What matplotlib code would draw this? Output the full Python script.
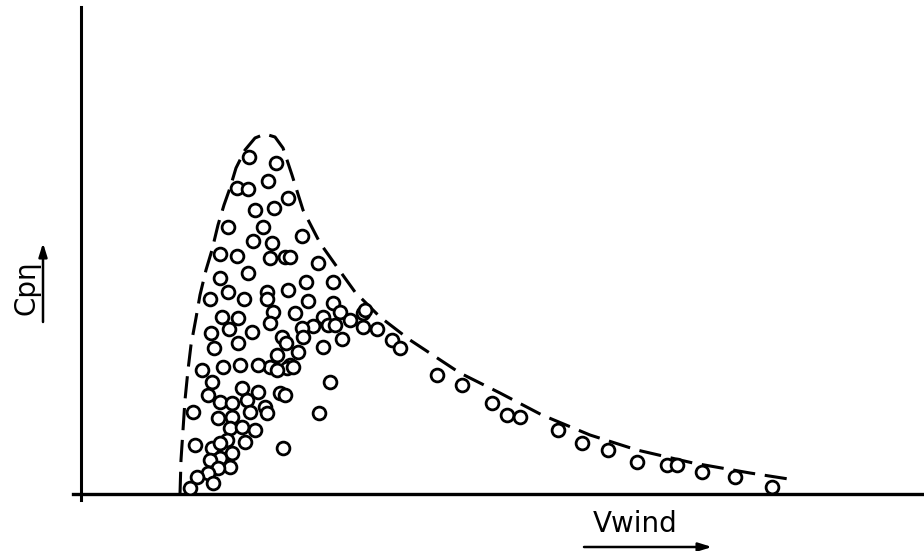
import matplotlib
matplotlib.use("Agg")
import matplotlib.pyplot as plt

plt.rcParams['lines.scale_dashes'] = False

# measured points (arbitrary units: wind speed, power coefficient)
v = [16.8, 19.5, 15.6, 16.7, 18.7, 20.7, 17.4, 19.3, 14.7, 18.2, 17.2, 19.1,
     22.1, 13.9, 15.6, 18.9, 20.4, 20.9, 16.7, 13.9, 14.7, 16.3, 18.6, 18.6,
     12.9, 14.1, 15.7, 19.2, 18.9, 13.0, 14.8, 17.1, 15.7, 13.3, 20.1, 18.9,
     15.9, 14.2, 19.6, 20.7, 23.7, 25.2, 22.5, 22.7, 25.2, 25.9, 26.9, 28.2,
     28.2, 29.6, 24.2, 24.7, 25.4, 23.2, 22.1, 21.4, 20.5, 22.2, 21.7, 24.2,
     26.1, 31.1, 31.9, 20.9, 12.1, 17.7, 13.1, 16.1, 17.7, 12.7, 13.9, 15.1,
     16.6, 18.4, 19.9, 11.2, 13.7, 15.1, 16.9, 18.6, 14.9, 16.1, 17.4, 14.6,
     16.4, 11.4, 13.1, 13.9, 20.2, 15.1, 13.9, 12.9, 14.9, 13.7, 12.7, 11.6,
     13.2, 10.9, 20.6, 19.6, 21.2, 24.9, 20.4, 23.8,
     28.4, 35.6, 38.1, 41.1, 42.6, 43.9, 47.7, 50.1, 52.7, 55.6, 58.6, 59.6,
     62.1, 65.4, 69.1]
cp = [33.7, 33.1, 30.6, 30.5, 31.3, 29.6, 28.4, 28.6, 26.7, 26.7, 25.3, 25.1,
      25.8, 24.0, 23.8, 23.6, 23.7, 23.7, 22.1, 21.6, 20.2, 19.5, 20.2, 19.5,
      19.5, 17.7, 17.6, 18.2, 17.1, 16.1, 16.5, 16.2, 15.1, 14.6, 15.7, 12.7,
      12.9, 12.7, 13.9, 20.4, 23.1, 21.2, 21.2, 19.3, 19.1, 18.2, 17.4, 18.1,
      16.7, 16.5, 17.7, 16.9, 16.9, 16.8, 16.6, 18.1, 15.1, 15.7, 14.2, 14.7,
      15.5, 15.4, 14.6, 12.9, 12.4, 12.9, 11.2, 10.6, 10.2, 9.9, 9.2, 9.1,
      9.4, 8.7, 10.1, 8.2, 7.6, 7.7, 8.2, 8.1, 6.6, 6.7, 6.4, 5.4,
      5.2, 4.9, 4.6, 5.1, 4.6, 4.1, 3.6, 3.4, 2.7, 2.6, 2.1, 1.7,
      1.1, 0.6, 12.6, 12.4, 12.7, 11.2, 9.9, 8.1,
      18.4, 11.9, 10.9, 9.1, 7.9, 7.7, 6.4, 5.1, 4.4, 3.2, 2.9, 2.9,
      2.2, 1.7, 0.7]

# upper envelope (dashed)
env_v = [9.9, 10.0, 10.2, 10.4, 10.7, 11.0, 11.5, 11.9, 12.5, 13.1, 13.7, 14.3,
         14.9, 15.5, 16.4, 17.4, 18.4, 19.4, 20.2, 21.1, 22.2, 23.9, 25.6, 27.4,
         29.9, 32.9, 37.9, 41.9, 46.1, 50.9, 55.6, 61.2, 66.9, 71.4]
env_cp = [0.0, 3.4, 6.4, 9.4, 12.4, 14.9, 17.6, 19.9, 22.4, 24.4, 26.9, 28.9,
          30.6, 32.6, 34.4, 35.6, 36.0, 35.7, 34.6, 31.9, 28.4, 25.1, 22.7, 20.2,
          17.7, 15.4, 12.1, 10.1, 7.9, 5.9, 4.4, 3.1, 2.1, 1.4]

W, H = 924, 551
fig = plt.figure(figsize=(W / 100, H / 100), dpi=100)
ax = fig.add_axes([81 / W, 57 / H, 843 / W, 487 / H])
ax.set_xlim(0, 84.3)
ax.set_ylim(0, 48.7)
ax.axis('off')

# hand-drawn style axes
ax.plot([0, 0], [-0.6, 48.7], color='black', lw=2.2, clip_on=False)
ax.plot([-0.8, 84.3], [0, 0], color='black', lw=2.4, clip_on=False)

ax.plot(env_v, env_cp, color='black', lw=2.2, dashes=(16, 7))
ax.plot(v, cp, linestyle='none', marker='o', ms=9.2, mfc='white',
        mec='black', mew=2.0)

fig.text(27 / W, 1 - 288 / H, 'Cpη', rotation=90, fontsize=20,
         ha='center', va='center')
fig.text(635 / W, 1 - 524 / H, 'Vwind', fontsize=20, ha='center', va='center')

arrow = dict(arrowstyle='-|>,head_length=0.8,head_width=0.25', color='black',
             lw=1.8, shrinkA=0, shrinkB=0)
ax.annotate('', xy=(43 / W, 1 - 243 / H), xytext=(43 / W, 1 - 322 / H),
            xycoords='figure fraction', arrowprops=arrow)
ax.annotate('', xy=(712 / W, 1 - 547 / H), xytext=(584 / W, 1 - 547 / H),
            xycoords='figure fraction', arrowprops=arrow)

fig.savefig('out.png', dpi=100, facecolor='white')
